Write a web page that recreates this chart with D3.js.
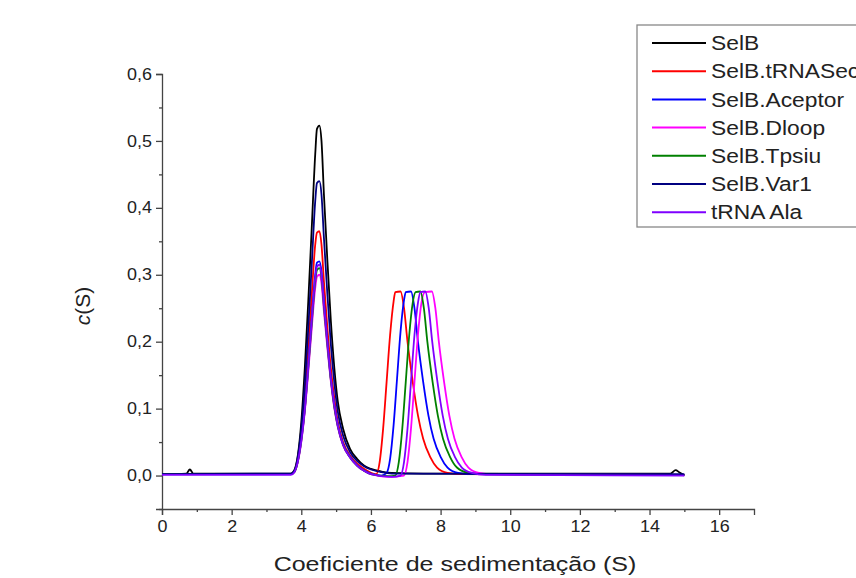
<!DOCTYPE html>
<html>
<head>
<meta charset="utf-8">
<script src="https://cdn.jsdelivr.net/npm/d3@7"></script>
<style>
  body { margin: 0; background: #fff; }
  svg { font-family: Arial, "Liberation Sans", sans-serif; }
</style>
</head>
<body>
<div id="chart"></div>
<script>
// sedimentation coefficient (S) vs c(S)
var seriesNames = ["SelB", "SelB.tRNASec", "SelB.Aceptor", "SelB.Dloop", "SelB.Tpsiu", "SelB.Var1", "tRNA Ala"];
var seriesColors = ["#000000", "#ff0000", "#0000ff", "#ff00ff", "#008000", "#000080", "#7f00ff"];

var selB = [[0,0.002],[0.7,0.003],[0.8,0.009],[0.9,0.003],[3.7,0.003],[3.8,0.008],[3.9,0.03],[4.0,0.08],[4.1,0.16],[4.2,0.26],[4.3,0.37],[4.4,0.48],[4.45,0.518],[4.52,0.523],[4.58,0.5],[4.65,0.42],[4.75,0.32],[4.85,0.23],[4.95,0.16],[5.05,0.11],[5.2,0.07],[5.4,0.04],[5.6,0.025],[5.8,0.015],[6.0,0.01],[6.3,0.006],[6.6,0.004],[7.5,0.003],[14.6,0.003],[14.75,0.008],[14.85,0.005],[15.0,0.0]];
var selBtRNASec = [[0,0.002],[3.7,0.002],[3.8,0.006],[3.9,0.025],[4.0,0.06],[4.1,0.12],[4.2,0.19],[4.3,0.27],[4.4,0.345],[4.45,0.363],[4.52,0.365],[4.58,0.345],[4.65,0.29],[4.75,0.22],[4.85,0.16],[4.95,0.115],[5.05,0.08],[5.2,0.05],[5.4,0.03],[5.6,0.018],[5.8,0.01],[6.0,0.004],[6.15,0.002],[6.25,0.02],[6.35,0.07],[6.45,0.14],[6.55,0.21],[6.65,0.26],[6.7,0.274],[6.85,0.275],[6.95,0.25],[7.05,0.2],[7.2,0.14],[7.35,0.09],[7.5,0.055],[7.7,0.028],[7.9,0.012],[8.2,0.004],[8.6,0.002],[15.0,0.001]];
var selBAceptor = [[0,0.002],[3.7,0.002],[3.8,0.006],[3.9,0.022],[4.0,0.055],[4.1,0.1],[4.2,0.165],[4.3,0.235],[4.4,0.3],[4.45,0.318],[4.52,0.32],[4.58,0.305],[4.65,0.26],[4.75,0.2],[4.85,0.145],[4.95,0.105],[5.05,0.075],[5.2,0.047],[5.4,0.028],[5.6,0.016],[5.8,0.008],[6.0,0.003],[6.3,0.0],[6.45,0.004],[6.55,0.025],[6.65,0.075],[6.75,0.145],[6.85,0.215],[6.95,0.262],[7.0,0.274],[7.15,0.275],[7.25,0.25],[7.35,0.2],[7.5,0.14],[7.65,0.09],[7.8,0.055],[8.0,0.028],[8.2,0.012],[8.5,0.004],[8.9,0.002],[15.0,0.001]];
var selBDloop = [[0,0.002],[3.7,0.002],[3.8,0.005],[3.9,0.02],[4.0,0.05],[4.1,0.095],[4.2,0.155],[4.3,0.22],[4.4,0.28],[4.45,0.297],[4.52,0.3],[4.58,0.287],[4.65,0.245],[4.75,0.19],[4.85,0.14],[4.95,0.1],[5.05,0.072],[5.2,0.045],[5.4,0.027],[5.6,0.015],[5.8,0.007],[6.0,0.002],[6.5,-0.002],[6.95,0.0],[7.05,0.02],[7.15,0.07],[7.25,0.14],[7.35,0.21],[7.45,0.258],[7.55,0.274],[7.75,0.275],[7.85,0.25],[7.95,0.2],[8.1,0.14],[8.25,0.09],[8.4,0.055],[8.6,0.028],[8.8,0.012],[9.1,0.004],[9.5,0.002],[15.0,0.001]];
var selBTpsiu = [[0,0.002],[3.7,0.002],[3.8,0.005],[3.9,0.021],[4.0,0.052],[4.1,0.098],[4.2,0.16],[4.3,0.228],[4.4,0.29],[4.45,0.307],[4.52,0.31],[4.58,0.296],[4.65,0.252],[4.75,0.195],[4.85,0.142],[4.95,0.102],[5.05,0.073],[5.2,0.046],[5.4,0.027],[5.6,0.015],[5.8,0.007],[6.0,0.002],[6.5,-0.001],[6.7,0.0],[6.8,0.02],[6.9,0.07],[7.0,0.14],[7.1,0.21],[7.2,0.258],[7.28,0.274],[7.42,0.275],[7.52,0.25],[7.62,0.2],[7.77,0.14],[7.92,0.09],[8.07,0.055],[8.27,0.028],[8.47,0.012],[8.8,0.004],[9.2,0.002],[15.0,0.001]];
var selBVar1 = [[0,0.002],[3.7,0.003],[3.8,0.007],[3.9,0.028],[4.0,0.07],[4.1,0.135],[4.2,0.22],[4.3,0.315],[4.4,0.41],[4.45,0.437],[4.52,0.44],[4.58,0.42],[4.65,0.355],[4.75,0.27],[4.85,0.195],[4.95,0.138],[5.05,0.095],[5.2,0.06],[5.4,0.035],[5.6,0.022],[5.8,0.014],[6.0,0.009],[6.3,0.005],[6.6,0.003],[15.0,0.002]];
var tRNAAla = [[0,0.001],[3.7,0.001],[3.8,0.005],[3.9,0.021],[4.0,0.052],[4.1,0.098],[4.2,0.162],[4.3,0.232],[4.4,0.295],[4.45,0.312],[4.52,0.315],[4.58,0.3],[4.65,0.256],[4.75,0.198],[4.85,0.144],[4.95,0.104],[5.05,0.074],[5.2,0.046],[5.4,0.027],[5.6,0.015],[5.8,0.007],[6.0,0.002],[6.6,-0.002],[6.85,0.0],[6.95,0.02],[7.05,0.07],[7.15,0.14],[7.25,0.21],[7.35,0.258],[7.42,0.274],[7.56,0.275],[7.66,0.25],[7.76,0.2],[7.91,0.14],[8.06,0.09],[8.21,0.055],[8.41,0.028],[8.61,0.012],[8.9,0.004],[9.3,0.001],[15.0,0.0]];

var seriesData = [selB, selBtRNASec, selBAceptor, selBDloop, selBTpsiu, selBVar1, tRNAAla];

var xTicks = [0, 2, 4, 6, 8, 10, 12, 14, 16];
var yTicks = [0.0, 0.1, 0.2, 0.3, 0.4, 0.5, 0.6];

var W = 856, H = 578;
var plot = {left: 162, right: 754, top: 74, bottom: 509};

var svg = d3.select("#chart").append("svg")
  .attr("width", W)
  .attr("height", H);

var x = d3.scaleLinear().domain([0, 17]).range([plot.left, plot.right]);
var y = d3.scaleLinear().domain([-0.05, 0.6]).range([plot.bottom, plot.top]);

var fmt = function(d) { return d3.format(".1f")(d).replace(".", ","); };

// the picture is a bit stretched sideways, so widen texts a little
function widen(sel, k) {
  sel.each(function() {
    var w = this.getComputedTextLength();
    d3.select(this).attr("textLength", w * k).attr("lengthAdjust", "spacingAndGlyphs");
  });
}

// x axis (major + minor ticks)
svg.append("g")
  .attr("transform", "translate(0," + plot.bottom + ")")
  .call(d3.axisBottom(x).tickValues(xTicks).tickSize(6).tickPadding(6).tickFormat(d3.format("d")));
svg.append("g")
  .attr("transform", "translate(0," + plot.bottom + ")")
  .call(d3.axisBottom(x).tickValues(d3.range(1, 17, 2)).tickSize(3).tickFormat(""))
  .select(".domain").remove();

// y axis
svg.append("g")
  .attr("transform", "translate(" + plot.left + ",0)")
  .call(d3.axisLeft(y).tickValues(yTicks).tickSize(6).tickPadding(4).tickFormat(fmt));
svg.append("g")
  .attr("transform", "translate(" + plot.left + ",0)")
  .call(d3.axisLeft(y).tickValues([-0.05, 0.05, 0.15, 0.25, 0.35, 0.45, 0.55]).tickSize(3).tickFormat(""))
  .select(".domain").remove();

svg.selectAll(".domain").attr("stroke", "#444").attr("stroke-width", 1.3);
svg.selectAll(".tick line").attr("stroke", "#444").attr("stroke-width", 1.3);
svg.selectAll(".tick text").attr("fill", "#222").style("font-size", "16px")
  .style("font-family", "Arial, 'Liberation Sans', sans-serif");
widen(svg.selectAll(".tick text"), 1.12);

// axis titles
var xTitle = svg.append("text")
  .attr("x", 455)
  .attr("y", 571)
  .attr("text-anchor", "middle")
  .attr("fill", "#222")
  .style("font-size", "20px")
  .text("Coeficiente de sedimentação (S)");
widen(xTitle, 1.25);

var yTitle = svg.append("text")
  .attr("transform", "translate(90,306) rotate(-90)")
  .attr("text-anchor", "middle")
  .attr("fill", "#222")
  .style("font-size", "21px");
yTitle.append("tspan").style("font-style", "italic").text("c");
yTitle.append("tspan").text("(S)");

// curves
var line = d3.line()
  .x(function(d) { return x(d[0]); })
  .y(function(d) { return y(d[1]); })
  .curve(d3.curveMonotoneX);

svg.append("g").selectAll("path")
  .data(seriesData)
  .enter()
  .append("path")
    .attr("d", line)
    .attr("fill", "none")
    .attr("stroke", function(d, i) { return seriesColors[i]; })
    .attr("stroke-width", 1.8)
    .attr("stroke-linejoin", "round");

// legend
var legend = svg.append("g").attr("transform", "translate(637,25)");
legend.append("rect")
  .attr("x", 0).attr("y", 0)
  .attr("width", 240).attr("height", 202)
  .attr("fill", "#fff")
  .attr("stroke", "#888")
  .attr("stroke-width", 1.3);

var rows = legend.selectAll(".row")
  .data(seriesNames)
  .enter()
  .append("g")
    .attr("class", "row")
    .attr("transform", function(d, i) { return "translate(0," + (18 + i * 28.2) + ")"; });
rows.append("line")
  .attr("x1", 15).attr("x2", 69)
  .attr("stroke", function(d, i) { return seriesColors[i]; })
  .attr("stroke-width", 2);
var legText = rows.append("text")
  .attr("x", 74)
  .attr("dy", "0.36em")
  .attr("fill", "#222")
  .style("font-size", "20px")
  .text(function(d) { return d; });
widen(legText, 1.14);
</script>
</body>
</html>
